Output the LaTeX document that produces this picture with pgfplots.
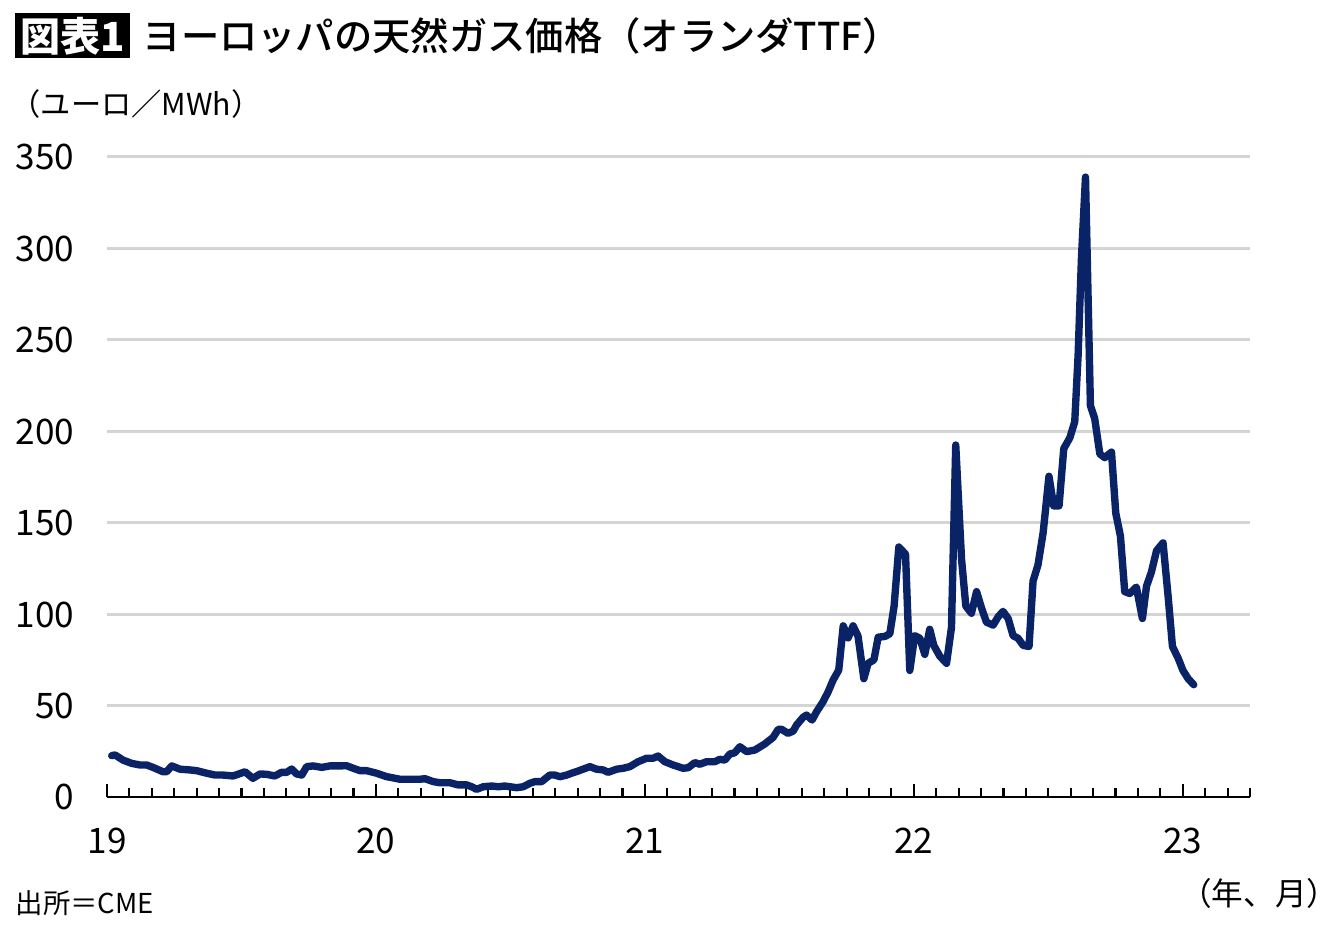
\documentclass[border=0pt]{standalone}
\usepackage{fontspec}
\setmainfont{Noto Sans CJK JP}
\newfontfamily\medfont{Noto Sans CJK JP Medium}
\usepackage{pgfplots}
\pgfplotsset{compat=1.18}
\definecolor{navy}{RGB}{10,35,102}
\begin{document}
\begin{tikzpicture}
\path[use as bounding box] (0,0) rectangle (134mm,92.7mm);
% title
\fill[black] (1.5mm,86.9mm) rectangle (13.0mm,91.4mm);
\node[text=white,font=\fontsize{11.4}{12}\selectfont\bfseries,inner sep=0pt] at (7.25mm,89.1mm) {図表1};
\node[anchor=west,font=\fontsize{10.9}{12}\selectfont\medfont,inner sep=0pt] at (14.2mm,89.1mm) {ヨーロッパの天然ガス価格（オランダTTF）};
\node[anchor=west,font=\fontsize{8.6}{9}\selectfont,inner sep=0pt] at (1.0mm,82.3mm) {（ユーロ／MWh）};
\node[anchor=west,font=\fontsize{7.8}{9}\selectfont,inner sep=0pt] at (1.5mm,2.4mm) {出所＝CME};
\node[anchor=east,font=\fontsize{9}{10}\selectfont,inner sep=0pt] at (133.9mm,3.4mm) {（年、月）};
\begin{axis}[
  at={(10.7mm,13.0mm)}, anchor=south west,
  width=114.3mm, height=64mm, scale only axis,
  xmin=0, xmax=51, ymin=0, ymax=350,
  axis x line*=bottom, axis y line*=left,
  y axis line style={draw=none},
  x axis line style={line width=0.75pt},
  xtick={0,12,24,36,48}, xticklabels={19,20,21,22,23},
  minor xtick={1,...,11,13,14,...,23,25,26,...,35,37,38,...,47,49,50,51},
  xtick style={line width=0.6pt,black},
  minor tick style={line width=0.6pt,black},
  major tick length=1.3mm, minor tick length=0.85mm,
  tick align=inside,
  ytick={0,50,...,350},
  ytick style={draw=none},
  ymajorgrids, grid style={draw=black!17,line width=0.85pt},
  ticklabel style={font=\fontsize{10}{11}\selectfont,inner sep=0pt},
  /pgf/number format/assume math mode=true,
  xticklabel style={anchor=base,yshift=-5.7mm},
  yticklabel style={anchor=base east,xshift=-3.2mm,yshift=-1.3mm},
  clip=false,
]
\addplot[navy,line width=2.1pt,line join=round,line cap=round] coordinates {
(0.21,22.6)(0.36,23.0)(0.71,20.2)(1.10,18.4)(1.47,17.5)(1.77,17.5)(2.05,16.2)(2.50,13.8)(2.66,13.8)(2.89,17.0)
(3.26,15.2)(3.70,14.8)(4.00,14.4)(4.45,13.0)(4.82,12.0)(5.17,12.0)(5.62,11.5)(5.84,12.4)(6.16,13.8)(6.51,10.2)
(6.83,12.6)(7.12,12.4)(7.49,11.5)(7.79,13.5)(8.02,13.5)(8.24,15.3)(8.46,12.6)(8.69,12.0)(8.91,16.6)(9.20,17.0)
(9.58,16.2)(9.95,17.0)(10.32,17.0)(10.69,17.1)(10.99,15.7)(11.29,14.4)(11.58,14.4)(12.03,13.0)(12.48,11.1)
(12.62,10.8)(13.07,9.7)(13.52,9.7)(13.96,9.7)(14.19,10.0)(14.56,8.4)(14.85,7.8)(15.30,7.8)(15.67,6.6)(16.05,6.6)
(16.27,5.6)(16.49,4.2)(16.79,5.6)(17.16,6.0)(17.46,5.6)(17.75,6.0)(17.98,5.6)(18.28,5.1)(18.57,5.6)(18.87,7.5)
(19.09,8.4)(19.39,8.4)(19.76,12.0)(19.98,12.0)(20.21,11.1)(20.51,12.0)(20.73,13.0)(21.02,14.2)(21.55,16.6)
(21.84,15.2)(22.14,14.8)(22.36,13.5)(22.74,15.2)(23.03,15.7)(23.33,16.6)(23.70,19.3)(24.08,21.2)(24.37,21.2)
(24.59,22.4)(24.89,19.3)(25.26,17.5)(25.71,15.7)(25.93,16.0)(26.23,18.8)(26.45,17.9)(26.75,19.3)(27.12,19.3)
(27.34,20.6)(27.57,20.2)(27.79,23.5)(28.01,24.2)(28.24,27.5)(28.54,24.8)(28.91,25.7)(29.35,29.0)(29.72,32.6)
(29.95,37.0)(30.10,37.0)(30.39,34.8)(30.62,36.1)(30.77,39.4)(31.06,43.6)(31.21,44.8)(31.46,42.1)(31.66,46.6)
(31.95,52.1)(32.18,57.6)(32.40,64.0)(32.65,69.4)(32.85,93.6)(33.07,87.0)(33.29,93.6)(33.51,88.0)(33.77,64.7)
(33.96,73.1)(34.22,75.0)(34.41,87.4)(34.71,87.8)(34.93,89.3)(35.12,104.4)(35.33,136.7)(35.63,132.8)(35.82,69.2)
(36.04,88.2)(36.27,86.8)(36.49,78.0)(36.71,91.7)(36.89,82.9)(37.16,77.0)(37.46,73.1)(37.68,92.7)(37.87,192.5)
(38.13,129.9)(38.32,104.4)(38.57,100.5)(38.80,112.3)(39.02,103.4)(39.24,95.6)(39.54,94.0)(39.76,98.5)(39.98,101.5)
(40.21,97.6)(40.43,88.2)(40.65,86.8)(40.88,82.9)(41.14,82.3)(41.32,118.1)(41.54,126.9)(41.77,144.5)(42.03,175.4)
(42.24,159.2)(42.48,159.2)(42.69,190.5)(42.96,196.4)(43.18,205.2)(43.33,241.4)(43.48,295.0)(43.66,339.0)
(43.88,214.0)(44.07,207.0)(44.30,187.6)(44.52,185.6)(44.82,188.6)(45.01,155.3)(45.22,142.6)(45.41,112.3)
(45.63,111.3)(45.93,114.8)(46.20,97.6)(46.38,115.2)(46.60,123.0)(46.83,134.7)(47.12,139.0)(47.35,109.3)
(47.54,82.3)(47.79,76.0)(48.01,69.2)(48.24,64.7)(48.49,61.4)
};
\end{axis}
\end{tikzpicture}
\end{document}
